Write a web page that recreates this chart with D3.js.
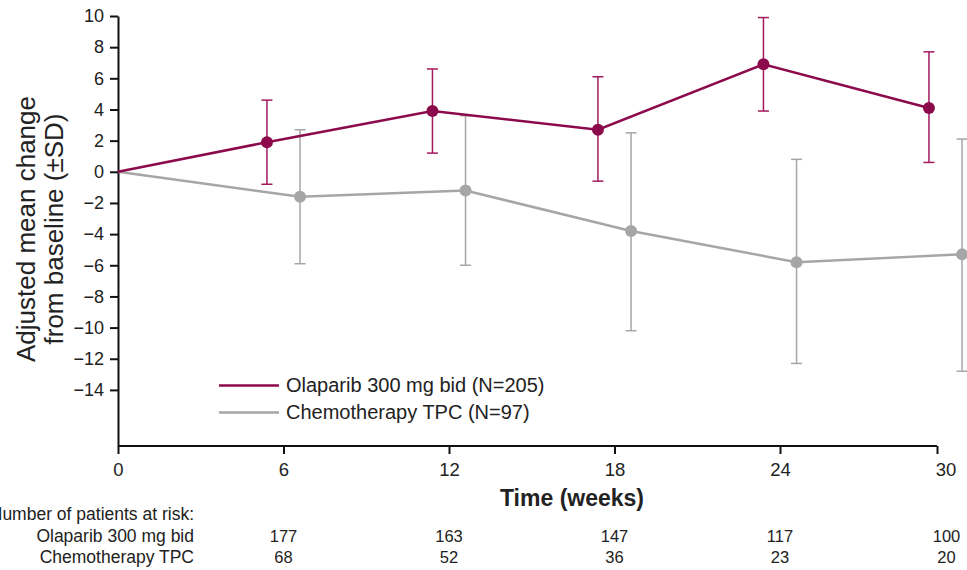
<!DOCTYPE html>
<html>
<head>
<meta charset="utf-8">
<script src="https://cdn.jsdelivr.net/npm/d3@7"></script>
<style>
  html, body { margin: 0; padding: 0; background: #fff; }
  svg { display: block; font-family: "Liberation Sans", Arial, Helvetica, sans-serif; }
</style>
</head>
<body>
<svg id="chart" width="967" height="570"></svg>
<script>
// ---------- data ----------
const weekTicks = [0, 6, 12, 18, 24, 30];
const yTicks = [10, 8, 6, 4, 2, 0, -2, -4, -6, -8, -10, -12, -14];

const olaLabel = "Olaparib 300 mg bid (N=205)";
const olaWeeks = [0, 5.4, 11.4, 17.4, 23.4, 29.4];
const olaMean  = [0, 1.9, 3.9, 2.7, 6.9, 4.1];
const olaLower = [null, -0.8, 1.2, -0.6, 3.9, 0.6];
const olaUpper = [null, 4.6, 6.6, 6.1, 9.9, 7.7];

const chemoLabel = "Chemotherapy TPC (N=97)";
const chemoWeeks = [0, 6.6, 12.6, 18.6, 24.6, 30.6];
const chemoMean  = [0, -1.6, -1.2, -3.8, -5.8, -5.3];
const chemoLower = [null, -5.9, -6.0, -10.2, -12.3, -12.8];
const chemoUpper = [null, 2.7, 3.6, 2.5, 0.8, 2.1];

const riskTitle = "Number of patients at risk:";
const riskWeeks = [6, 12, 18, 24, 30];
const riskLabels = ["Olaparib 300 mg bid", "Chemotherapy TPC"];
const olaRisk   = [177, 163, 147, 117, 100];
const chemoRisk = [68, 52, 36, 23, 20];

const yTitle = ["Adjusted mean change", "from baseline (\u00b1SD)"];
const xTitle = "Time (weeks)";

// ---------- layout ----------
const svg = d3.select("#chart");
const x = d3.scaleLinear().domain([0, 30]).range([118, 945.5]);
const y = d3.scaleLinear().domain([-17.6, 10]).range([446, 16]);
const axisY0 = y(-17.6);
const xAxisEnd = 937;

const olaColor = "#8c0a4c";
const olaBar = "#a3195e";
const chemoColor = "#a6a6a6";

// ---------- y axis ----------
const gy = svg.append("g")
  .attr("transform", `translate(${x(0)},0)`)
  .call(d3.axisLeft(y).tickValues(yTicks).tickSize(8).tickSizeOuter(0).tickPadding(6));
gy.select(".domain").attr("stroke", "#111").attr("stroke-width", 2);
gy.selectAll(".tick line").attr("stroke", "#111").attr("stroke-width", 2);
gy.selectAll(".tick text").attr("font-size", 18).attr("fill", "#222")
  .attr("font-family", "Liberation Sans, Arial, sans-serif");

// ---------- x axis ----------
const gx = svg.append("g")
  .attr("transform", `translate(0,${axisY0})`)
  .call(d3.axisBottom(x).tickValues(weekTicks).tickSize(8).tickSizeOuter(0).tickPadding(9));
gx.select(".domain").remove();
gx.append("path")
  .attr("d", `M${x(0)},0H${xAxisEnd}`)
  .attr("stroke", "#111").attr("stroke-width", 2).attr("fill", "none");
gx.selectAll(".tick line").attr("stroke", "#111").attr("stroke-width", 2)
  .attr("x1", d => d === 30 ? xAxisEnd - x(30) : 0)
  .attr("x2", d => d === 30 ? xAxisEnd - x(30) : 0);
gx.selectAll(".tick text").attr("font-size", 18.5).attr("fill", "#222")
  .attr("font-family", "Liberation Sans, Arial, sans-serif");

svg.append("text")
  .attr("x", 572).attr("y", 506)
  .attr("text-anchor", "middle")
  .attr("font-size", 23).attr("font-weight", "bold").attr("fill", "#222")
  .text(xTitle);

// y title
yTitle.forEach((t, i) => {
  svg.append("text")
    .attr("transform", `translate(${35 + i * 27.5},229) rotate(-90)`)
    .attr("text-anchor", "middle")
    .attr("font-size", 26).attr("fill", "#222")
    .text(t);
});

// ---------- series ----------
function drawSeries(weeks, mean, lower, upper, color, barColor) {
  const pts = weeks.map((w, i) => ({ w, m: mean[i], lo: lower[i], hi: upper[i] }));
  const g = svg.append("g");
  const eb = pts.filter(d => d.lo !== null);
  g.selectAll("line.eb").data(eb).enter().append("line")
    .attr("x1", d => x(d.w)).attr("x2", d => x(d.w))
    .attr("y1", d => y(d.lo)).attr("y2", d => y(d.hi))
    .attr("stroke", barColor).attr("stroke-width", 1.5);
  ["lo", "hi"].forEach(k => {
    g.selectAll("line.cap" + k).data(eb).enter().append("line")
      .attr("x1", d => x(d.w) - 5.5).attr("x2", d => x(d.w) + 5.5)
      .attr("y1", d => y(d[k])).attr("y2", d => y(d[k]))
      .attr("stroke", barColor).attr("stroke-width", 1.5);
  });
  g.append("path").datum(pts)
    .attr("d", d3.line().x(d => x(d.w)).y(d => y(d.m)))
    .attr("fill", "none").attr("stroke", color).attr("stroke-width", 2.5);
  g.selectAll("circle").data(pts.filter(d => d.w > 0)).enter().append("circle")
    .attr("cx", d => x(d.w)).attr("cy", d => y(d.m)).attr("r", 6)
    .attr("fill", color);
}
drawSeries(chemoWeeks, chemoMean, chemoLower, chemoUpper, chemoColor, chemoColor);
drawSeries(olaWeeks, olaMean, olaLower, olaUpper, olaColor, olaBar);

// ---------- legend ----------
const legend = [
  { label: olaLabel, color: olaColor, y: 385.5 },
  { label: chemoLabel, color: chemoColor, y: 412.5 }
];
legend.forEach(l => {
  svg.append("line").attr("x1", 219).attr("x2", 279).attr("y1", l.y).attr("y2", l.y)
    .attr("stroke", l.color).attr("stroke-width", 2.5);
  svg.append("text").attr("x", 286).attr("y", l.y + 6.5)
    .attr("font-size", 20).attr("fill", "#222").text(l.label);
});

// ---------- at risk table ----------
svg.append("text").attr("x", 194).attr("y", 519.5).attr("text-anchor", "end")
  .attr("font-size", 17.5).attr("fill", "#222").text(riskTitle);
[olaRisk, chemoRisk].forEach((row, r) => {
  const by = 541.5 + r * 21.5;
  svg.append("text").attr("x", 194).attr("y", by).attr("text-anchor", "end")
    .attr("font-size", 17.5).attr("fill", "#222").text(riskLabels[r]);
  svg.selectAll(null).data(row).enter().append("text")
    .attr("x", (d, i) => x(riskWeeks[i]) + (riskWeeks[i] === 30 ? 1 : 0))
    .attr("y", by)
    .attr("text-anchor", "middle")
    .attr("font-size", 16.5).attr("fill", "#222")
    .text(d => d);
});
</script>
</body>
</html>
